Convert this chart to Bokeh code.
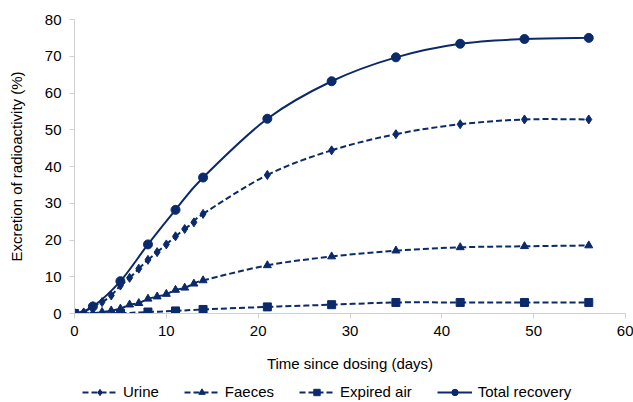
from bokeh.plotting import figure
from bokeh.layouts import column
from bokeh.models import (Range1d, SingleIntervalTicker, Legend, LegendItem, ColumnDataSource)
from bokeh.embed import file_html
from bokeh.resources import INLINE

days_daily = [0, 1, 2, 3, 4, 5, 6, 7, 8, 9, 10, 11, 12, 13, 14, 21, 28, 35, 42, 49, 56]
urine = [0, 0.3, 2.0, 3.1, 4.9, 7.6, 9.7, 12.2, 14.6, 16.7, 18.8, 21.0, 23.0, 24.8, 27.1,
         37.7, 44.4, 48.8, 51.5, 52.8, 52.8]
faeces = [0, 0, 0.1, 0.4, 0.8, 1.3, 2.4, 2.8, 4.0, 4.6, 5.3, 6.4, 7.0, 8.1, 9.0,
          13.1, 15.5, 17.1, 18.0, 18.3, 18.5]
days_air = [0, 5, 8, 11, 14, 21, 28, 35, 42, 49, 56]
expired_air = [0, 0.1, 0.4, 0.7, 1.1, 1.8, 2.4, 3.0, 3.0, 3.0, 3.0]
days_total = [0, 2, 5, 8, 11, 14, 21, 28, 35, 42, 49, 56]
total_recovery = [0, 1.9, 8.8, 18.8, 28.2, 37.0, 53.0, 63.2, 69.7, 73.4, 74.7, 75.0]

NAVY = "#0b2a6b"
FONT = "Liberation Sans"

p = figure(width=633, height=376, output_backend="svg", toolbar_location=None,
           x_range=Range1d(0, 60), y_range=Range1d(0, 80),
           min_border_left=74, min_border_right=8, min_border_top=19, min_border_bottom=63)
p.outline_line_color = None
p.xgrid.visible = False
p.ygrid.visible = False

# legend strip: its renderers use the same data, kept outside its visible range
lg = figure(width=633, height=24, output_backend="svg", toolbar_location=None,
            x_axis_type=None, y_axis_type=None, x_range=Range1d(-2, -1), y_range=Range1d(-2, -1),
            min_border_left=0, min_border_right=0, min_border_top=0, min_border_bottom=0)
lg.outline_line_color = None
lg.xgrid.visible = False
lg.ygrid.visible = False


def smooth_source(xs, ys):
    n = len(xs)
    x0, y0, x1, y1, cx0, cy0, cx1, cy1 = [], [], [], [], [], [], [], []
    for i in range(n - 1):
        xm, ym = (xs[i - 1], ys[i - 1]) if i > 0 else (xs[i], ys[i])
        xp, yp = (xs[i + 2], ys[i + 2]) if i + 2 < n else (xs[i + 1], ys[i + 1])
        x0.append(xs[i]); y0.append(ys[i]); x1.append(xs[i + 1]); y1.append(ys[i + 1])
        cx0.append(xs[i] + (xs[i + 1] - xm) / 6.0)
        cy0.append(ys[i] + (ys[i + 1] - ym) / 6.0)
        cx1.append(xs[i + 1] - (xp - xs[i]) / 6.0)
        cy1.append(ys[i + 1] - (yp - ys[i]) / 6.0)
    return ColumnDataSource(dict(x0=x0, y0=y0, x1=x1, y1=y1, cx0=cx0, cy0=cy0, cx1=cx1, cy1=cy1))


series = [
    ("Urine", days_daily, urine, "diamond", 9, "6 3"),
    ("Faeces", days_daily, faeces, "triangle", 8, "6 3"),
    ("Expired air", days_air, expired_air, "square", 8, "6 3"),
    ("Total recovery", days_total, total_recovery, "circle", 9, "solid"),
]

items = []
for label, xs, ys, marker, size, dash in series:
    lw = 2
    p.bezier(x0="x0", y0="y0", x1="x1", y1="y1", cx0="cx0", cy0="cy0", cx1="cx1", cy1="cy1",
             source=smooth_source(xs, ys), line_color=NAVY, line_width=lw, line_dash=dash)
    p.scatter(xs, ys, marker=marker, size=size, fill_color=NAVY, line_color=NAVY)
    leg_line = lg.line(xs, ys, line_color=NAVY, line_width=lw, line_dash=dash)
    leg_mark = lg.scatter(xs, ys, marker=marker, size=size - 1, fill_color=NAVY, line_color=NAVY)
    items.append(LegendItem(label=label, renderers=[leg_line, leg_mark]))

for ax in (p.xaxis[0], p.yaxis[0]):
    ax.axis_line_color = "#d0d0d0"
    ax.major_tick_line_color = "#d0d0d0"
    ax.major_tick_in = 0
    ax.major_tick_out = 5
    ax.minor_tick_line_color = None
    ax.major_label_text_font = FONT
    ax.major_label_text_font_size = "15px"
    ax.major_label_text_color = "#000000"
    ax.axis_label_text_font = FONT
    ax.axis_label_text_font_size = "15px"
    ax.axis_label_text_font_style = "normal"
    ax.axis_label_text_color = "#000000"

p.xaxis.ticker = SingleIntervalTicker(interval=10)
p.yaxis.ticker = SingleIntervalTicker(interval=10)
p.xaxis.axis_label = "Time since dosing (days)"
p.yaxis.axis_label = "Excretion of radioactivity (%)"
p.xaxis.major_label_standoff = 7
p.xaxis.axis_label_standoff = 16
p.yaxis.major_label_standoff = 8
p.yaxis.axis_label_standoff = 17

legend = Legend(items=items, orientation="horizontal", location=(8, 0),
                glyph_width=35, glyph_height=16, label_height=16, label_standoff=6, spacing=25,
                padding=0, margin=0, border_line_color=None, background_fill_alpha=0,
                label_text_font=FONT, label_text_font_size="15px", label_text_color="#000000")
lg.add_layout(legend, "center")

layout = column(p, lg, spacing=0)
open("out.html", "w").write(file_html(layout, INLINE))
